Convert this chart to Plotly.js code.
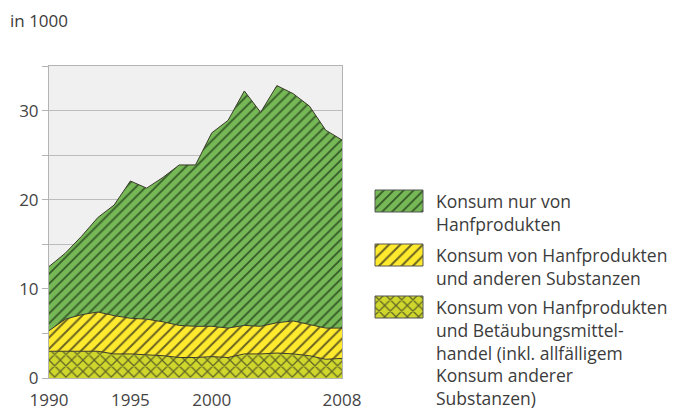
<!DOCTYPE html>
<html>
<head>
<meta charset="utf-8">
<script src="https://cdn.plot.ly/plotly-3.0.1.min.js"></script>
<style>
  body { margin: 0; background: #fff; }
  #chart { width: 682px; height: 410px; }
</style>
</head>
<body>
<div id="chart"></div>
<script>
// values in 1000
var years = [1990, 1991, 1992, 1993, 1994, 1995, 1996, 1997, 1998, 1999,
             2000, 2001, 2002, 2003, 2004, 2005, 2006, 2007, 2008];
// Konsum von Hanfprodukten und Betaeubungsmittelhandel (bottom layer)
var handelValues = [3.0, 3.0, 3.0, 3.0, 2.7, 2.7, 2.6, 2.5, 2.3, 2.3,
                    2.4, 2.3, 2.7, 2.7, 2.8, 2.7, 2.5, 2.1, 2.2];
// Konsum von Hanfprodukten und anderen Substanzen (middle layer)
var andereValues = [2.3, 3.6, 4.1, 4.4, 4.3, 4.0, 4.0, 3.8, 3.6, 3.5,
                    3.4, 3.3, 3.2, 3.1, 3.4, 3.7, 3.5, 3.5, 3.4];
// Konsum nur von Hanfprodukten (top layer)
var nurHanfValues = [7.2, 7.4, 8.8, 10.6, 12.4, 15.4, 14.7, 16.2, 18.0, 18.1,
                     21.7, 23.3, 26.3, 24.0, 26.6, 25.5, 24.5, 22.2, 21.1];

var xTickVals = [1990, 1995, 2000, 2008];
var yTickVals = [0, 10, 20, 30];
var unitLabel = "in 1000";
var seriesNames = [
  "Konsum von Hanfprodukten<br>und Betäubungsmittel-<br>handel (inkl. allfälligem<br>Konsum anderer<br>Substanzen)",
  "Konsum von Hanfprodukten<br>und anderen Substanzen",
  "Konsum nur von<br>Hanfprodukten"
];

var W = 682, H = 410;
var font = "'Open Sans', 'DejaVu Sans', sans-serif";
var edge = "#3a3a2a";

var styles = [
  { bg: "#cfd62c", fg: "#5e6424", shape: "x", size: 8, solidity: 0.28 },
  { bg: "#ffea2e", fg: "#6a6420", shape: "/", size: 8, solidity: 0.25 },
  { bg: "#76b856", fg: "#355a28", shape: "/", size: 7, solidity: 0.26 }
];
var layerValues = [handelValues, andereValues, nurHanfValues];

var data = [];
layerValues.forEach(function (vals, i) {
  var s = styles[i];
  data.push({
    x: years,
    y: vals,
    type: "scatter",
    mode: "lines",
    stackgroup: "one",
    line: { color: edge, width: 1 },
    fillcolor: s.bg,
    fillpattern: { shape: s.shape, fgcolor: s.fg, bgcolor: s.bg, size: s.size, solidity: s.solidity, fillmode: "replace" },
    name: seriesNames[i],
    hoverinfo: "skip",
    showlegend: false
  });
});

// legend swatches, drawn in pixel coordinates on a hidden axis pair
var swatchTops = [296, 244, 190];
var swatchH = 22, swatchL = 375, swatchR = 423;
var annotations = [];
swatchTops.forEach(function (top, i) {
  var s = styles[i];
  data.push({
    x: [swatchL, swatchR, swatchR, swatchL, swatchL],
    y: [top, top, top + swatchH, top + swatchH, top],
    xaxis: "x2", yaxis: "y2",
    type: "scatter", mode: "lines", fill: "toself",
    line: { color: "#555", width: 1 },
    fillcolor: s.bg,
    fillpattern: { shape: s.shape, fgcolor: s.fg, bgcolor: s.bg, size: s.size, solidity: s.solidity, fillmode: "replace" },
    hoverinfo: "skip", showlegend: false
  });
  annotations.push({
    xref: "x2", yref: "y2", x: 434, y: top - 3,
    xanchor: "left", yanchor: "top", align: "left",
    text: seriesNames[i], showarrow: false,
    font: { family: font, size: 17.5, color: "#3c3c3c" }
  });
});

annotations.push({
  xref: "x2", yref: "y2", x: 8, y: 20,
  xanchor: "left", yanchor: "middle",
  text: unitLabel, showarrow: false,
  font: { family: font, size: 17, color: "#3c3c3c" }
});

var layout = {
  width: W, height: H,
  margin: { l: 0, r: 0, t: 0, b: 0 },
  paper_bgcolor: "#ffffff",
  plot_bgcolor: "rgba(0,0,0,0)",
  showlegend: false,
  font: { family: font, color: "#444" },
  shapes: [{
    type: "rect", xref: "x domain", yref: "y domain",
    x0: 0, x1: 1, y0: 0, y1: 1, layer: "below",
    fillcolor: "#f0f0f0", line: { width: 0 }
  }],
  xaxis: {
    domain: [49 / W, 342 / W],
    range: [1990, 2008],
    tickvals: xTickVals,
    ticks: "", showgrid: false, zeroline: false,
    ticklabelstandoff: 7,
    showline: true, mirror: true, linecolor: "#b4b4b4", linewidth: 1,
    tickfont: { family: font, size: 17, color: "#444" }
  },
  yaxis: {
    domain: [(H - 378) / H, (H - 66) / H],
    range: [0, 35],
    tickvals: yTickVals,
    ticks: "outside", ticklen: 6, tickcolor: "#b4b4b4",
    showgrid: true, gridcolor: "#bcbcbc", gridwidth: 1,
    minor: { dtick: 5, showgrid: true, gridcolor: "#bcbcbc", ticks: "outside", ticklen: 6, tickcolor: "#b4b4b4" },
    zeroline: false,
    showline: true, mirror: true, linecolor: "#b4b4b4", linewidth: 1,
    tickfont: { family: font, size: 17, color: "#444" }
  },
  xaxis2: { domain: [0, 1], range: [0, W], visible: false, fixedrange: true },
  yaxis2: { domain: [0, 1], range: [H, 0], visible: false, fixedrange: true, anchor: "x2" },
  annotations: annotations
};

Plotly.newPlot("chart", data, layout, { displayModeBar: false, staticPlot: true });
</script>
</body>
</html>
